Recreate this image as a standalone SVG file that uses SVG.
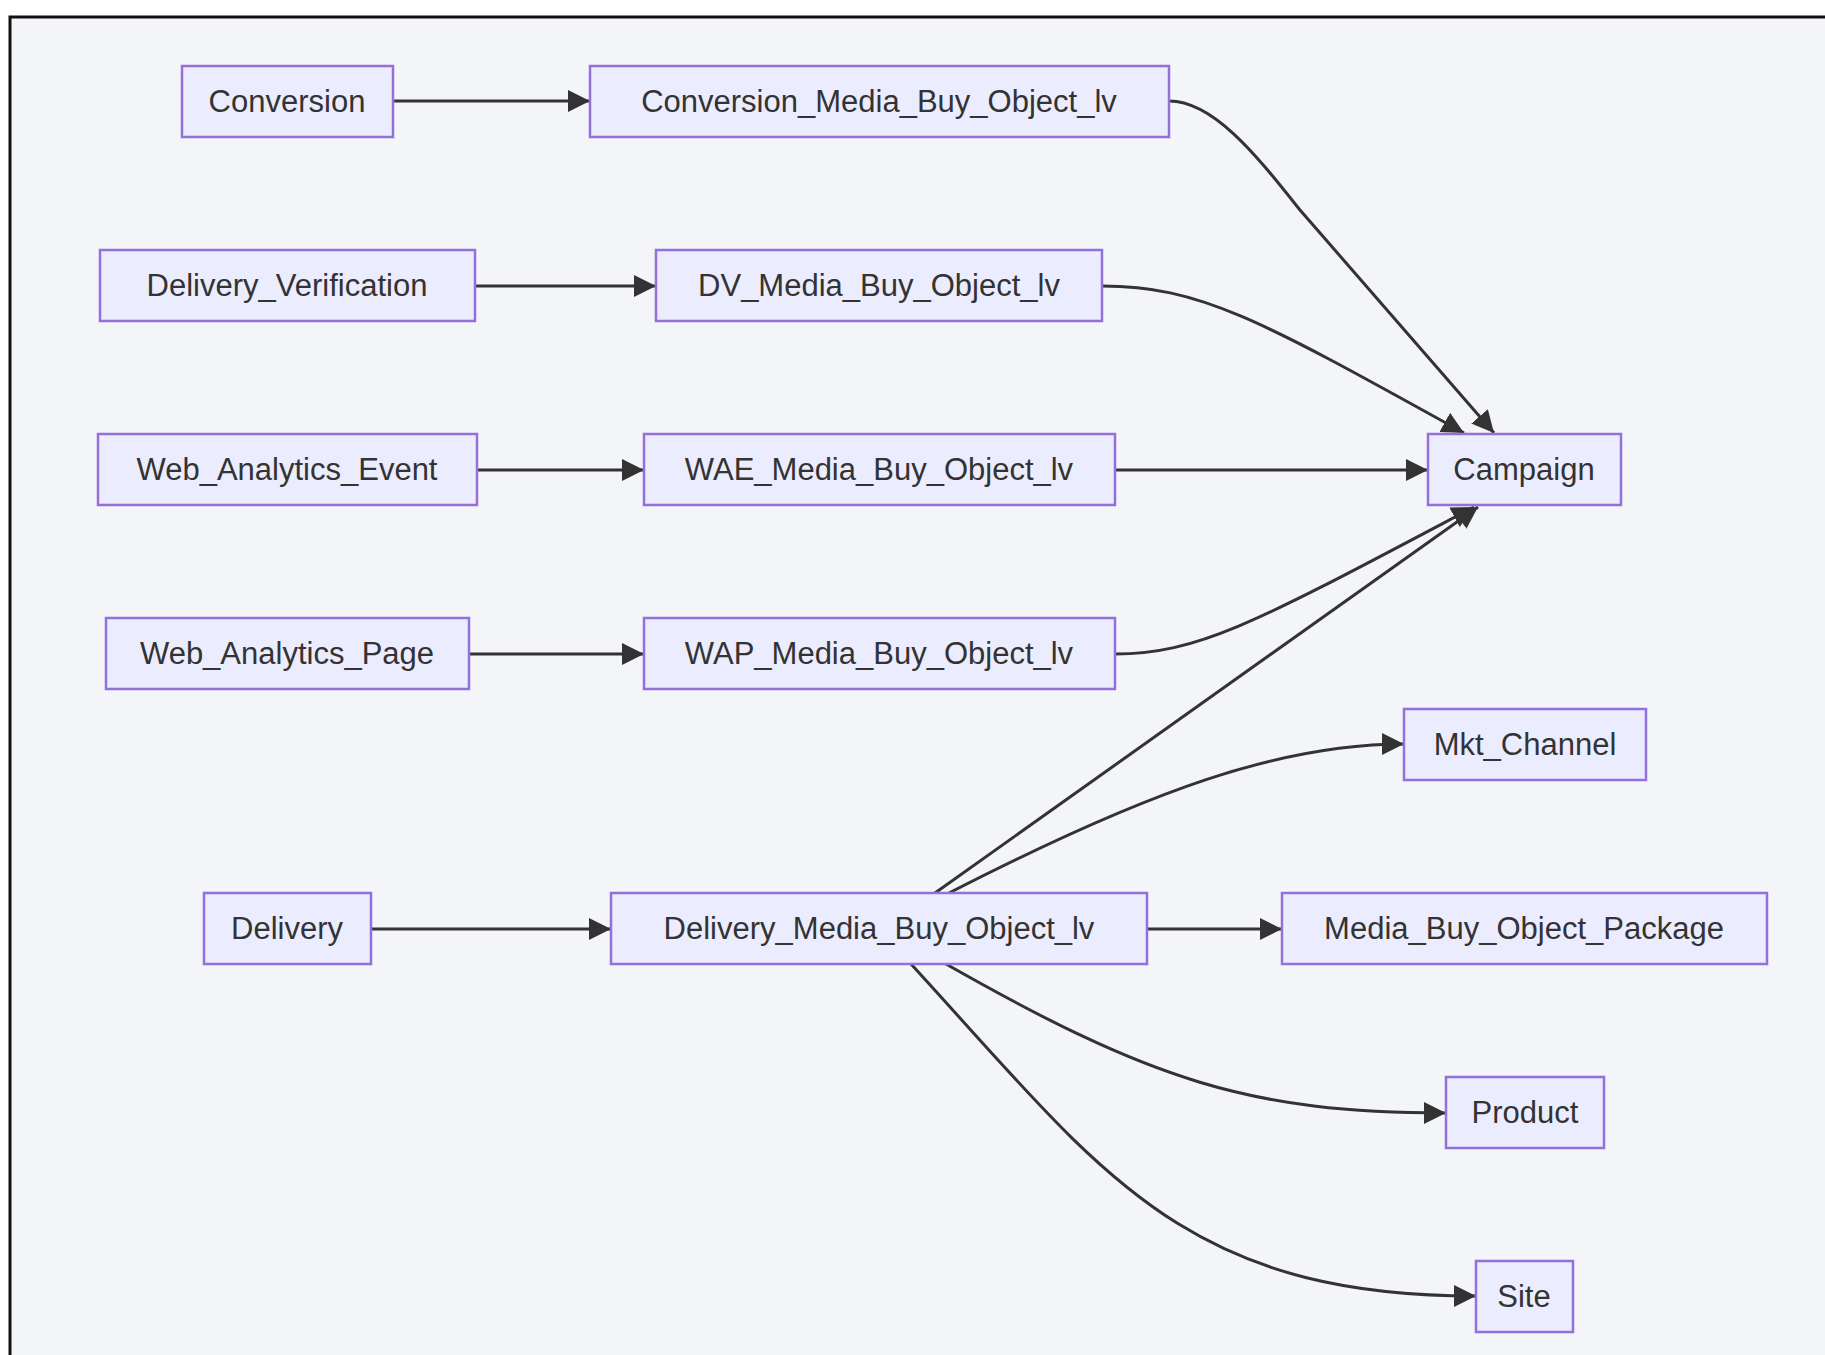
<svg xmlns="http://www.w3.org/2000/svg" width="1825" height="1355" viewBox="0 0 1825 1355">
<style>
.n rect{fill:#ECECFF;stroke:#9370DB;stroke-width:2.5}
.n text{font-family:"Liberation Sans",Arial,sans-serif;font-size:31px;fill:#333;text-anchor:middle;dominant-baseline:central}
.e path{fill:none;stroke:#333;stroke-width:3}
</style>
<defs>
<marker id="a" markerUnits="userSpaceOnUse" markerWidth="22" markerHeight="22" viewBox="0 0 22 22" refX="22" refY="11" orient="auto"><path d="M0,0 L22,11 L0,22 z" fill="#333"/></marker>
</defs>
<rect x="0" y="0" width="1825" height="1355" fill="#fff"/>
<rect x="10" y="17" width="1830" height="1350" fill="#f4f5f9" stroke="#111" stroke-width="3"/>
<g class="e" marker-end="url(#a)">
<path d="M393,101 L590,101" marker-end="url(#a)"/>
<path d="M1169,101 C1215,101 1260,160 1300,210 L1494,433" marker-end="url(#a)"/>
<path d="M475,286 L656,286" marker-end="url(#a)"/>
<path d="M1102,286 C1200,286 1260,320 1464,433" marker-end="url(#a)"/>
<path d="M477,470 L644,470" marker-end="url(#a)"/>
<path d="M1115,470 L1428,470" marker-end="url(#a)"/>
<path d="M469,654 L644,654" marker-end="url(#a)"/>
<path d="M1115,654 C1200,654 1260,620 1474,507" marker-end="url(#a)"/>
<path d="M935,893 L1478,507" marker-end="url(#a)"/>
<path d="M949,893 C1150,790 1280,744 1404,744" marker-end="url(#a)"/>
<path d="M371,929 L611,929" marker-end="url(#a)"/>
<path d="M1147,929 L1282,929" marker-end="url(#a)"/>
<path d="M946,964 C1150,1080 1250,1113 1446,1113" marker-end="url(#a)"/>
<path d="M911,964 C1100,1170 1180,1296 1476,1296" marker-end="url(#a)"/>
</g>
<g id="conv" class="n"><rect x="182" y="66" width="211" height="71"/><text x="287" y="101">Conversion</text></g>
<g id="cmbo" class="n"><rect x="590" y="66" width="579" height="71"/><text x="879" y="101">Conversion_Media_Buy_Object_lv</text></g>
<g id="dv" class="n"><rect x="100" y="250" width="375" height="71"/><text x="287" y="285">Delivery_Verification</text></g>
<g id="dvmbo" class="n"><rect x="656" y="250" width="446" height="71"/><text x="879" y="285">DV_Media_Buy_Object_lv</text></g>
<g id="wae" class="n"><rect x="98" y="434" width="379" height="71"/><text x="287" y="469">Web_Analytics_Event</text></g>
<g id="waembo" class="n"><rect x="644" y="434" width="471" height="71"/><text x="879" y="469">WAE_Media_Buy_Object_lv</text></g>
<g id="campaign" class="n"><rect x="1428" y="434" width="193" height="71"/><text x="1524" y="469">Campaign</text></g>
<g id="wap" class="n"><rect x="106" y="618" width="363" height="71"/><text x="287" y="653">Web_Analytics_Page</text></g>
<g id="wapmbo" class="n"><rect x="644" y="618" width="471" height="71"/><text x="879" y="653">WAP_Media_Buy_Object_lv</text></g>
<g id="mkt" class="n"><rect x="1404" y="709" width="242" height="71"/><text x="1525" y="744">Mkt_Channel</text></g>
<g id="delivery" class="n"><rect x="204" y="893" width="167" height="71"/><text x="287" y="928">Delivery</text></g>
<g id="dmbo" class="n"><rect x="611" y="893" width="536" height="71"/><text x="879" y="928">Delivery_Media_Buy_Object_lv</text></g>
<g id="mbop" class="n"><rect x="1282" y="893" width="485" height="71"/><text x="1524" y="928">Media_Buy_Object_Package</text></g>
<g id="product" class="n"><rect x="1446" y="1077" width="158" height="71"/><text x="1525" y="1112">Product</text></g>
<g id="site" class="n"><rect x="1476" y="1261" width="97" height="71"/><text x="1524" y="1296">Site</text></g>
</svg>
